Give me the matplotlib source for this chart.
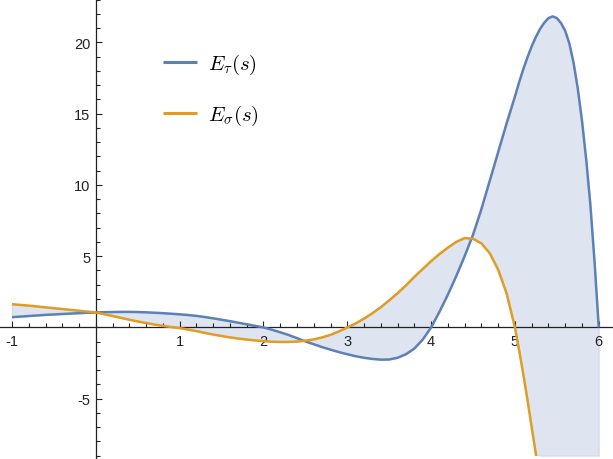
import numpy as np
import matplotlib
matplotlib.use("Agg")
import matplotlib.pyplot as plt
from matplotlib.ticker import MultipleLocator, FixedLocator
from matplotlib.patches import Rectangle

plt.rcParams['axes.unicode_minus'] = False
plt.rcParams['mathtext.fontset'] = 'cm'

# ---- data ----
s = [-1.0, -0.9, -0.8, -0.7, -0.6, -0.5, -0.4, -0.3, -0.2, -0.1,
     0.0, 0.1, 0.2, 0.3, 0.4, 0.5, 0.6, 0.7, 0.8, 0.9,
     1.0, 1.1, 1.2, 1.3, 1.4, 1.5, 1.6, 1.7, 1.8, 1.9,
     2.0, 2.1, 2.2, 2.3, 2.4, 2.5, 2.6, 2.7, 2.8, 2.9,
     3.0, 3.1, 3.2, 3.3, 3.4, 3.5, 3.6, 3.7, 3.8, 3.9,
     4.0, 4.1, 4.2, 4.3, 4.4, 4.5, 4.6, 4.7, 4.8, 4.9,
     5.0, 5.05, 5.1, 5.15, 5.2, 5.25, 5.3, 5.35, 5.4, 5.45,
     5.5, 5.55, 5.6, 5.65, 5.7, 5.75, 5.8, 5.85, 5.9, 5.95, 6.0]

E_tau = [0.72, 0.76, 0.80, 0.84, 0.88, 0.91, 0.94, 0.97, 1.00, 1.03,
         1.05, 1.07, 1.08, 1.09, 1.09, 1.08, 1.06, 1.03, 1.00, 0.96,
         0.92, 0.87, 0.81, 0.73, 0.64, 0.54, 0.44, 0.33, 0.22, 0.11,
         0.00, -0.16, -0.34, -0.53, -0.75, -0.98, -1.18, -1.38, -1.56, -1.73,
         -1.88, -2.02, -2.13, -2.21, -2.26, -2.25, -2.13, -1.88, -1.48, -0.85,
         0.00, 1.10, 2.30, 3.60, 5.00, 6.50, 8.30, 10.3, 12.3, 14.3,
         16.2, 17.2, 18.12, 18.96, 19.72, 20.38, 20.94, 21.38, 21.7, 21.82,
         21.7, 21.35, 20.8, 19.9, 18.55, 16.75, 14.5, 11.8, 8.6, 4.6, 0.0]

E_sigma = [1.63, 1.58, 1.53, 1.47, 1.41, 1.35, 1.29, 1.23, 1.17, 1.11,
           1.05, 0.93, 0.80, 0.67, 0.54, 0.42, 0.31, 0.20, 0.11, 0.03,
           -0.05, -0.15, -0.26, -0.38, -0.50, -0.60, -0.70, -0.78, -0.85, -0.91,
           -0.96, -1.00, -1.02, -1.02, -0.99, -0.93, -0.84, -0.70, -0.52, -0.28,
           0.00, 0.28, 0.62, 1.00, 1.42, 1.90, 2.40, 2.95, 3.55, 4.10,
           4.65, 5.15, 5.60, 6.00, 6.27, 6.22, 5.90, 5.20, 4.05, 2.40,
           0.00, -1.6, -3.3, -5.1, -7.0, -8.9, -11.0, -13.3, -15.8, -18.5,
           -21.4, -24.5, -27.8, -31.3, -35.0, -39.0, -43.2, -47.7, -52.4, -57.4, -62.6]

labels = [r'$E_{\tau}(s)$', r'$E_{\sigma}(s)$']
xticks = [-1, 1, 2, 3, 4, 5, 6]
yticks = [-5, 5, 10, 15, 20]

blue = '#5E81B5'
orange = '#E19C24'
y_floor = -9.0

x = np.array(s)
yt = np.array(E_tau)
ys = np.array(E_sigma)

fig = plt.figure(figsize=(6.13, 4.60), dpi=100)
ax = fig.add_axes([0, 0, 1, 1])
ax.set_xlim(-1.143, 6.17)
ax.set_ylim(-9.23, 23.04)

ax.fill_between(x, yt, np.maximum(ys, y_floor), facecolor=blue, alpha=0.2,
                edgecolor=blue, linewidth=0.8, zorder=1)

lt, = ax.plot(x, yt, color=blue, lw=1.8, zorder=3, label=labels[0],
              solid_capstyle='butt', solid_joinstyle='round')
ls, = ax.plot(x, ys, color=orange, lw=1.8, zorder=3, label=labels[1],
              solid_capstyle='butt', solid_joinstyle='round')
clip = Rectangle((-2, y_floor), 10, 40, transform=ax.transData)
ls.set_clip_path(clip)

for side in ['top', 'right']:
    ax.spines[side].set_visible(False)
ax.spines['left'].set_position(('data', 0))
ax.spines['bottom'].set_position(('data', 0))
for side in ['left', 'bottom']:
    ax.spines[side].set_color('#222222')
    ax.spines[side].set_linewidth(0.9)
    ax.spines[side].set_zorder(2)

ax.xaxis.set_major_locator(FixedLocator(xticks))
ax.yaxis.set_major_locator(FixedLocator(yticks))
ax.xaxis.set_minor_locator(MultipleLocator(0.2))
ax.yaxis.set_minor_locator(MultipleLocator(1))
ax.tick_params(which='both', direction='in', color='#222222', width=0.8)
ax.tick_params(which='major', length=4.5, labelsize=10.5, labelcolor='#222222')
ax.tick_params(which='minor', length=3)
ax.tick_params(axis='x', which='major', pad=5)
ax.tick_params(axis='y', which='major', pad=4)
for t in ax.get_xticklabels() + ax.get_yticklabels():
    t.set_family('Liberation Sans')
ax.patch.set_visible(False)

leg = ax.legend(handles=[lt, ls], loc='upper left',
                bbox_to_anchor=(163 / 613, 1 - 53 / 460), frameon=False,
                fontsize=15, handlelength=1.65, handletextpad=0.5,
                labelspacing=1.3, borderpad=0, borderaxespad=0)
for h in leg.legend_handles:
    h.set_linewidth(2.2)

fig.savefig('out.png', dpi=100)
